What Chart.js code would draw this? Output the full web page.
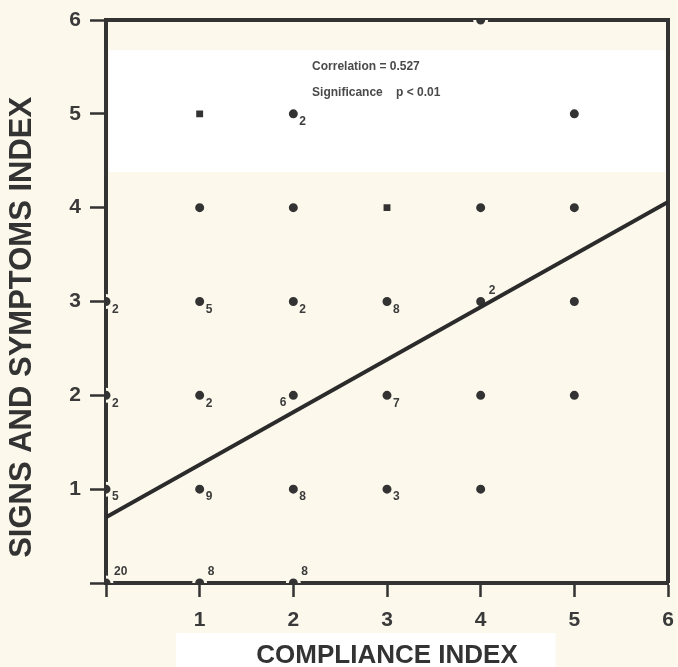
<!DOCTYPE html>
<html>
<head>
<meta charset="utf-8">
<script src="https://cdn.jsdelivr.net/npm/chart.js@4"></script>
<style>
  html, body { margin: 0; padding: 0; background: #fcf8ec; }
  #wrap { width: 678px; height: 667px; }
</style>
</head>
<body>
<div id="wrap"><canvas id="chart"></canvas></div>
<script>
// Observed (compliance, symptoms) pairs and how many subjects share each
const complianceX = [0, 1, 2, 0, 1, 2, 3, 4, 0, 1, 2, 3, 4, 5, 0, 1, 2, 3, 4, 5, 1, 2, 3, 4, 5, 1, 2, 5, 4];
const symptomsY   = [0, 0, 0, 1, 1, 1, 1, 1, 2, 2, 2, 2, 2, 2, 3, 3, 3, 3, 3, 3, 4, 4, 4, 4, 4, 5, 5, 5, 6];
const counts      = ['20', '8', '8', '5', '9', '8', '3', '', '2', '2', '6', '7', '', '', '2', '5', '2', '8', '2', '', '', '', '', '', '', '', '2', '', ''];
// where the count sits next to its dot: br = below right, tr = above right, l = left
const countSide   = ['tr', 'tr', 'tr', 'br', 'br', 'br', 'br', 'br', 'br', 'br', 'l', 'br', 'br', 'br', 'br', 'br', 'br', 'br', 'tr', 'br', 'br', 'br', 'br', 'br', 'br', 'br', 'br', 'br', 'br'];

// regression line end points
const fitX = [0, 6];
const fitY = [0.70, 4.06];

const xTicks = [0, 1, 2, 3, 4, 5, 6];
const yTicks = [0, 1, 2, 3, 4, 5, 6];

const statLines = ['Correlation = 0.527', 'Significance    p < 0.01'];

const ink = '#333333';
const paper = '#fcf8ec';

const points = complianceX.map((x, i) => ({ x: x, y: symptomsY[i] }));
const fitLine = fitX.map((x, i) => ({ x: x, y: fitY[i] }));
const isSquare = (p) => (p.x === 1 && p.y === 5) || (p.x === 3 && p.y === 4);

// paper colour, white scan band, frame, counts and the stats note
const paperPlugin = {
    id: 'paper',
    beforeDraw(chart) {
        const { ctx, scales: { x } } = chart;
        ctx.save();
        ctx.fillStyle = paper;
        ctx.fillRect(0, 0, chart.width, chart.height);
        ctx.fillStyle = '#ffffff';
        ctx.fillRect(x.getPixelForValue(0.75), chart.chartArea.bottom + 50, x.getPixelForValue(4.8) - x.getPixelForValue(0.75), chart.height);
        ctx.restore();
    },
    beforeDatasetsDraw(chart) {
        const { ctx, chartArea: a, scales: { x, y } } = chart;
        ctx.save();
        ctx.fillStyle = '#ffffff';
        ctx.fillRect(a.left + 3, y.getPixelForValue(5.68), a.right - a.left - 6, y.getPixelForValue(4.38) - y.getPixelForValue(5.68));
        ctx.strokeStyle = ink;
        ctx.lineWidth = 4;
        ctx.beginPath();
        ctx.moveTo(a.left, a.top);
        ctx.lineTo(a.right, a.top);
        ctx.lineTo(a.right, a.bottom);
        ctx.stroke();

        ctx.fillStyle = '#4a4a4a';
        ctx.font = 'bold 12px "Liberation Sans", Arial, sans-serif';
        ctx.textAlign = 'left';
        ctx.textBaseline = 'middle';
        ctx.fillText(statLines[0], x.getPixelForValue(2.2), y.getPixelForValue(5.5));
        ctx.fillText(statLines[1], x.getPixelForValue(2.2), y.getPixelForValue(5.23));
        ctx.restore();
    },
    afterDatasetsDraw(chart) {
        const { ctx } = chart;
        const meta = chart.getDatasetMeta(1);
        ctx.save();
        ctx.fillStyle = '#3c3c3c';
        ctx.font = 'bold 12px "Liberation Sans", Arial, sans-serif';
        ctx.textBaseline = 'middle';
        meta.data.forEach((pt, i) => {
            if (!counts[i]) return;
            const side = countSide[i];
            if (side === 'l') {
                ctx.textAlign = 'right';
                ctx.fillText(counts[i], pt.x - 7, pt.y + 7);
            } else if (side === 'tr') {
                ctx.textAlign = 'left';
                ctx.fillText(counts[i], pt.x + 8, pt.y - 11);
            } else {
                ctx.textAlign = 'left';
                ctx.fillText(counts[i], pt.x + 6, pt.y + 8);
            }
        });
        ctx.restore();
    }
};

const tickFont = { family: '"Liberation Sans", Arial, sans-serif', size: 21, weight: 'bold' };

new Chart(document.getElementById('chart'), {
    type: 'scatter',
    data: {
        datasets: [
            {
                type: 'line',
                data: fitLine,
                borderColor: '#2b2b2b',
                borderWidth: 4,
                pointRadius: 0,
                fill: false
            },
            {
                data: points,
                backgroundColor: ink,
                // gap round the dots that sit on the frame; white inside the scan band
                borderColor: points.map((p) => (p.y === 5 ? '#ffffff' : paper)),
                borderWidth: 3,
                pointRadius: points.map((p) => (isSquare(p) ? 7 : 6)),
                pointStyle: points.map((p) => (isSquare(p) ? 'rect' : 'circle'))
            }
        ]
    },
    options: {
        responsive: true,
        maintainAspectRatio: false,
        animation: false,
        layout: { padding: { top: 20, right: 6, left: 4, bottom: 0 } },
        plugins: {
            legend: { display: false },
            tooltip: { enabled: false }
        },
        scales: {
            x: {
                type: 'linear',
                min: 0,
                max: 6,
                afterBuildTicks: (s) => { s.ticks = xTicks.map((v) => ({ value: v })); },
                afterFit: (s) => { s.height = 84; s.paddingRight = 0; s.paddingLeft = 0; },
                border: { display: true, color: ink, width: 4 },
                grid: { drawOnChartArea: false, drawTicks: true, tickLength: 14, tickColor: ink, tickWidth: 2.5 },
                ticks: {
                    color: '#3a3a3a',
                    font: tickFont,
                    padding: 11,
                    maxRotation: 0,
                    callback: (v) => (v === 0 ? '' : v)
                },
                title: {
                    display: true,
                    text: 'COMPLIANCE INDEX',
                    color: '#333333',
                    font: { family: '"Liberation Sans", Arial, sans-serif', size: 26, weight: 'bold', lineHeight: 1 },
                    padding: { top: 0, bottom: -2 }
                }
            },
            y: {
                type: 'linear',
                min: 0,
                max: 6,
                afterBuildTicks: (s) => { s.ticks = yTicks.map((v) => ({ value: v })); },
                afterFit: (s) => { s.width = 102; s.paddingTop = 0; },
                border: { display: true, color: ink, width: 4 },
                grid: { drawOnChartArea: false, drawTicks: true, tickLength: 16, tickColor: ink, tickWidth: 2.5 },
                ticks: {
                    color: '#3a3a3a',
                    font: tickFont,
                    padding: 9,
                    callback: (v) => (v === 0 ? '' : v)
                },
                title: {
                    display: true,
                    // trailing spaces nudge the rotated title down as in the scan
                    text: 'SIGNS AND SYMPTOMS INDEX      ',
                    color: '#333333',
                    font: { family: '"Liberation Sans", Arial, sans-serif', size: 31, weight: 'bold', lineHeight: 1 },
                    padding: { top: 3, bottom: 0 }
                }
            }
        }
    },
    plugins: [paperPlugin]
});
</script>
</body>
</html>
